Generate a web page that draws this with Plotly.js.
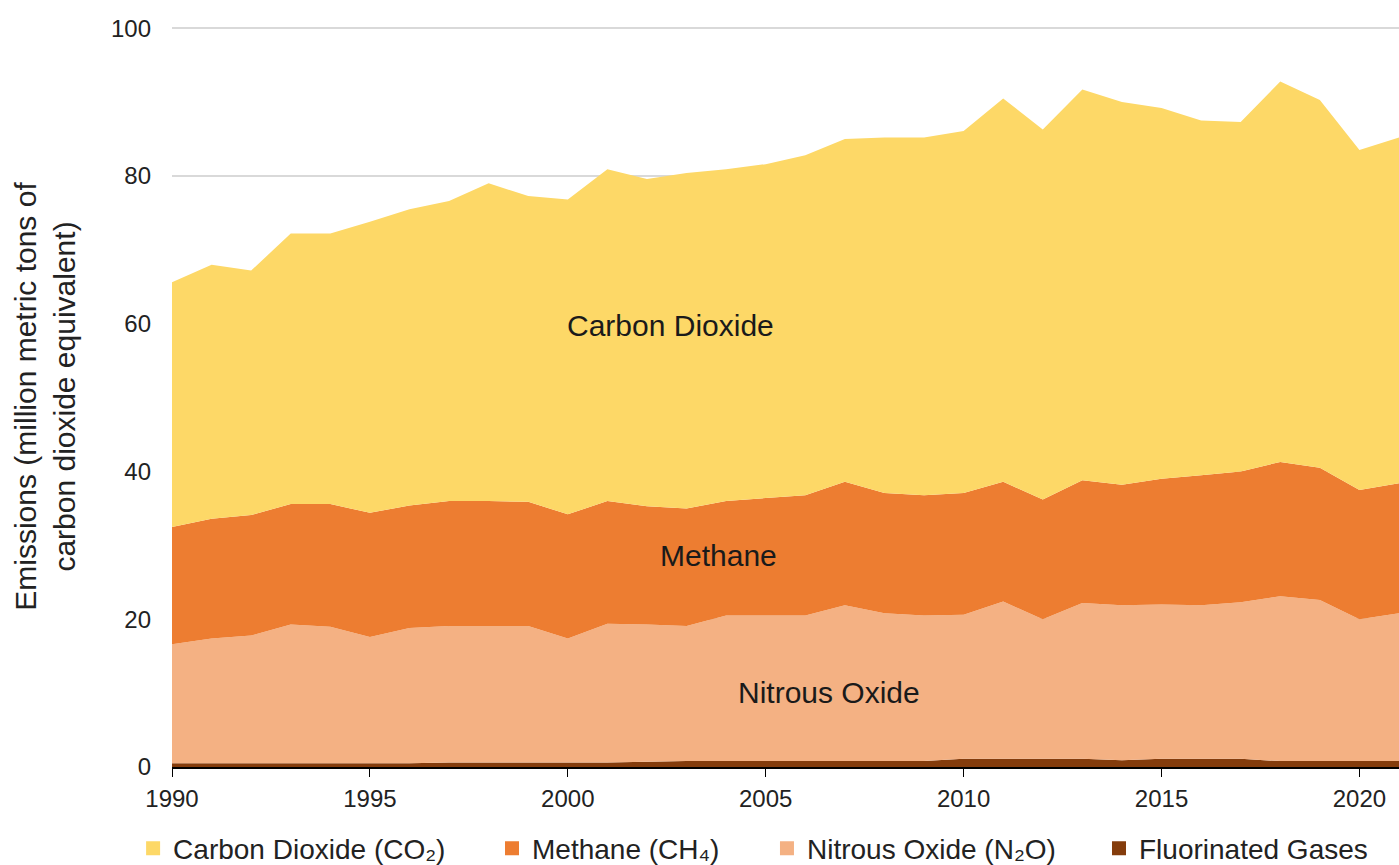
<!DOCTYPE html>
<html>
<head>
<meta charset="utf-8">
<script src="https://cdn.plot.ly/plotly-3.0.1.min.js"></script>
<style>html,body{margin:0;padding:0;background:#fff;}#chart{width:1399px;height:865px;}</style>
</head>
<body>
<div id="chart"></div>
<script>
const years = [1990,1991,1992,1993,1994,1995,1996,1997,1998,1999,2000,2001,2002,2003,2004,2005,2006,2007,2008,2009,2010,2011,2012,2013,2014,2015,2016,2017,2018,2019,2020,2021];
const fluorinated = [0.5,0.5,0.5,0.5,0.5,0.5,0.5,0.6,0.6,0.6,0.6,0.6,0.7,0.8,0.8,0.8,0.8,0.8,0.8,0.8,1.1,1.1,1.1,1.1,0.9,1.1,1.1,1.1,0.8,0.8,0.8,0.8];
const nitrousOxide = [16.1,16.9,17.3,18.8,18.5,17.1,18.3,18.5,18.5,18.5,16.8,18.8,18.6,18.3,19.7,19.7,19.7,21.1,20.0,19.7,19.5,21.3,18.9,21.1,21.0,20.9,20.8,21.2,22.3,21.8,19.2,20.0];
const methane = [15.9,16.2,16.3,16.3,16.6,16.8,16.6,16.9,16.9,16.8,16.8,16.6,16.0,15.9,15.5,15.9,16.3,16.7,16.3,16.3,16.5,16.2,16.2,16.6,16.3,17.0,17.6,17.7,18.2,17.9,17.5,17.6];
const carbonDioxide = [33.1,34.4,33.1,36.6,36.6,39.4,40.1,40.6,43.0,41.4,42.6,44.9,44.3,45.4,44.9,45.2,46.0,46.4,48.1,48.4,49.0,51.9,50.1,52.9,51.8,50.2,48.0,47.3,51.5,49.8,46.0,46.8];

const seriesNames = ["Fluorinated Gases","Nitrous Oxide (N\u2082O)","Methane (CH\u2084)","Carbon Dioxide (CO\u2082)"];
const seriesColors = ["#843C0C","#F4B183","#ED7D31","#FDD867"];
const seriesValues = [fluorinated, nitrousOxide, methane, carbonDioxide];
const legendIds = ["legend4","legend3","legend2","legend"];

const areaLabels = ["Carbon Dioxide","Methane","Nitrous Oxide"];
const areaLabelX = [2002.6,2003.8,2006.6];
const areaLabelY = [59.7,28.6,10.1];

const FONT = '"Liberation Sans", Arial, "DejaVu Sans", sans-serif';

const areaTraces = seriesValues.map((vals,i)=>({
  x: years, y: vals, name: seriesNames[i], type:'scatter', mode:'none',
  stackgroup:'one', fill:'tonexty', fillcolor: seriesColors[i],
  line:{width:0, color: seriesColors[i]}, showlegend:false
}));
// legend-only entries (square swatches like the reference)
const legendTraces = seriesNames.map((n,i)=>({
  x:[null], y:[null], name:n, type:'scatter', mode:'markers',
  marker:{symbol:'square', size:14, color:seriesColors[i]},
  showlegend:true, legend: legendIds[i]
}));

const annotations = areaLabels.map((t,i)=>({
  x: areaLabelX[i], y: areaLabelY[i], xref:'x', yref:'y', text:t, showarrow:false,
  font:{family:FONT, size:30, color:'#1a1a1a'}
}));

const legFont = {family:FONT, size:28, color:'#222'};
const legY = -0.11;
function leg(x){ return {orientation:'h', x:x, xanchor:'left', y:legY, yanchor:'middle', font:legFont, bgcolor:'rgba(0,0,0,0)', borderwidth:0}; }

const layout = {
  width:1399, height:865,
  margin:{l:172, r:0, t:26, b:98, autoexpand:false},
  paper_bgcolor:'#fff', plot_bgcolor:'#fff',
  font:{family:FONT, size:24, color:'#222'},
  showlegend:true,
  legend: leg(-0.0317),
  legend2: leg(0.2608),
  legend3: leg(0.4849),
  legend4: leg(0.7555),
  xaxis:{range:[1990,2021], tickvals:[1990,1995,2000,2005,2010,2015,2020],
    showgrid:false, zeroline:false, showline:true, linecolor:'#000', linewidth:1.5,
    ticks:'outside', ticklen:8, tickcolor:'#000', ticklabelstandoff:2,
    tickfont:{family:FONT, size:24, color:'#222'}},
  yaxis:{range:[0,100.3], tickvals:[0,20,40,60,80,100], showgrid:true, gridcolor:'#d9d9d9', gridwidth:1.5,
    zeroline:false, showline:false, ticks:'', ticklabelstandoff:20,
    tickfont:{family:FONT, size:24, color:'#222'},
    title:{text:'Emissions (million metric tons of<br>carbon dioxide equivalent)', font:{family:FONT, size:30, color:'#222'}, standoff:26}},
  annotations: annotations
};

Plotly.newPlot('chart', areaTraces.concat(legendTraces), layout, {displayModeBar:false, staticPlot:true});
</script>
</body>
</html>
